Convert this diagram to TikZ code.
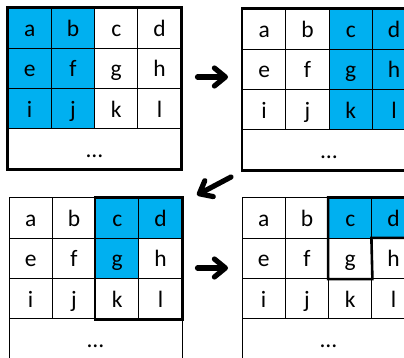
\documentclass[tikz,border=0pt]{standalone}
\usepackage{fontspec}
\setmainfont{Carlito}
\usetikzlibrary{arrows.meta,backgrounds}
\definecolor{hl}{HTML}{00B0F0}
\tikzset{
  cell/.style={draw=black, line width=1pt, minimum width=43.3pt, minimum height=40.3pt,
    inner sep=0pt, text height=16.6pt, text depth=0pt, font=\fontsize{23.5}{26}\selectfont},
  thickline/.style={draw=black, line width=2.6pt, line join=miter},
  bigarrow/.style={line width=5.2pt, line cap=round, line join=round,
    -{Straight Barb[length=11pt,width=18pt,round]}}
}
\newcommand\mygrid[3]{%
  \foreach \l [count=\i from 0] in {a,b,c,d,e,f,g,h,i,j,k,l}{
    \pgfmathsetmacro\cx{#2+mod(\i,4)*43.3+21.65}
    \pgfmathsetmacro\cy{#3+int(\i/4)*40.3+20.15}
    \node[cell] (#1\l) at (\cx,\cy) {\l};
  }
  \node[cell, minimum width=173.2pt] (#1dots) at (#2+86.6,#3+141.05) {…};
}
\begin{document}
\begin{tikzpicture}[x=1pt,y=-1pt]
\clip (0,0) rectangle (404,358);
% grids
\mygrid{G1}{8}{8}
\mygrid{G2}{242.5}{9}
\mygrid{G3}{9}{198}
\mygrid{G4}{242}{198}
% highlights
\begin{scope}[on background layer]
  \fill[white] (0,0) rectangle (404,358);
  \fill[hl] (G1a.north west) rectangle (G1j.south east);
  \fill[hl] (G2c.north west) rectangle (G2l.south east);
  \fill[hl] (G3c.north west) rectangle (G3d.south east);
  \fill[hl] (G3g.north west) rectangle (G3g.south east);
  \fill[hl] (G4c.north west) rectangle (G4d.south east);
\end{scope}
% thick outlines
\draw[thickline] (G1a.north west) rectangle (G1dots.south east);
\draw[thickline] (G2a.north west) rectangle (G2dots.south east);
\draw[thickline] (G3c.north west) rectangle (G3l.south east);
\draw[thickline] (G4d.north east) -- (G4c.north west) -- (G4g.south west)
  -- (G4g.south east) -- (G4h.north west) -- (G4h.north east);
% arrows
\coordinate (A1s) at (197.5,77);
\coordinate (A1e) at (228,77);
\coordinate (A2s) at (231,177);
\coordinate (A2e) at (197,195);
\coordinate (A3s) at (197.5,268);
\coordinate (A3e) at (228,268);
\draw[bigarrow] (A1s) -- (A1e);
\draw[bigarrow] (A2s) -- (A2e);
\draw[bigarrow] (A3s) -- (A3e);
\end{tikzpicture}
\end{document}
